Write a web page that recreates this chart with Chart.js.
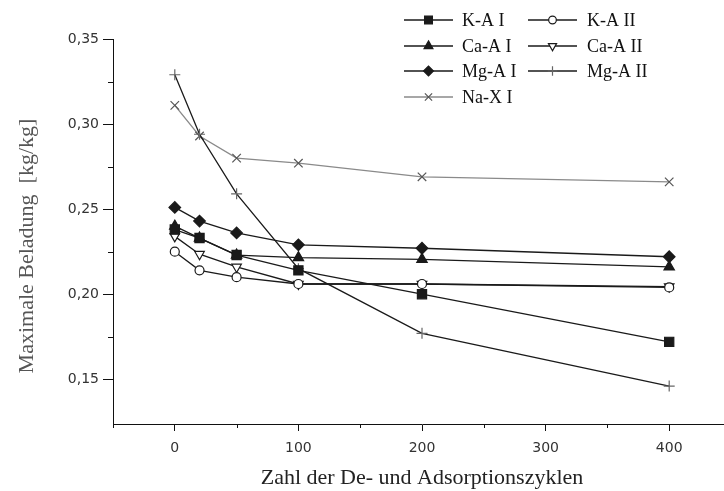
<!DOCTYPE html>
<html><head><meta charset="utf-8">
<script src="https://cdn.jsdelivr.net/npm/chart.js@4"></script>
<style>html,body{margin:0;padding:0;overflow:hidden;background:#fff}#wrap{width:740px;height:491px;position:relative}</style>
</head><body><div id="wrap"><canvas id="c"></canvas></div>
<script>
// ---- data ----
const cycles = [0, 20, 50, 100, 200, 400];
const kA1  = [0.238, 0.233, 0.223, 0.214, 0.200, 0.172];
const kA2  = [0.225, 0.214, 0.210, 0.206, 0.206, 0.204];
const caA1 = [0.240, 0.233, 0.223, 0.2215, 0.2205, 0.216];
const caA2 = [0.234, 0.2235, 0.216, 0.206, 0.206, 0.2045];
const mgA1 = [0.251, 0.243, 0.236, 0.229, 0.227, 0.222];
const mgA2 = [0.329, 0.294, 0.259, 0.215, 0.177, 0.146];
const naX1 = [0.311, 0.293, 0.280, 0.277, 0.269, 0.266];
const seriesLabels = ['K-A I', 'K-A II', 'Ca-A I', 'Ca-A II', 'Mg-A I', 'Mg-A II', 'Na-X I'];
const xTickValues = [-50, 0, 50, 100, 150, 200, 250, 300, 350, 400, 450];
const xTickLabels = ['', '0', '', '100', '', '200', '', '300', '', '400', ''];
const yTickValues = [0.15, 0.175, 0.2, 0.225, 0.25, 0.275, 0.3, 0.325, 0.35];
const yTickLabels = ['0,15', '', '0,20', '', '0,25', '', '0,30', '', '0,35'];
const xTitle = 'Zahl der De- und Adsorptionszyklen';
const yTitle = 'Maximale Beladung  [kg/kg]';

const pts = arr => arr.map((v, i) => ({x: cycles[i], y: v}));
const DARK = '#1a1a1a', GREY = '#8a8a8a';
function ds(label, data, style, opts) {
  return Object.assign({
    label, data: pts(data), borderColor: DARK, borderWidth: 1.3,
    pointStyle: style, pointRadius: 5, pointBorderColor: DARK,
    pointBackgroundColor: DARK, pointBorderWidth: 1.2, pointRotation: 0,
    tension: 0, fill: false
  }, opts || {});
}
const datasets = [
  ds(seriesLabels[0], kA1, 'rect', {pointRadius: 6.5}),
  ds(seriesLabels[1], kA2, 'circle', {pointRadius: 4.5, pointBackgroundColor: '#fff'}),
  ds(seriesLabels[2], caA1, 'triangle', {pointRadius: 6}),
  ds(seriesLabels[3], caA2, 'triangle', {pointRadius: 5.5, pointRotation: 180, pointBackgroundColor: '#fff'}),
  ds(seriesLabels[4], mgA1, 'rectRot', {pointRadius: 5.8}),
  ds(seriesLabels[5], mgA2, 'cross', {pointRadius: 5.5, pointBorderColor: '#666'}),
  ds(seriesLabels[6], naX1, 'crossRot', {pointRadius: 6, borderColor: GREY, pointBorderColor: '#555'})
];

const extrasPlugin = {
  id: 'extras',
  afterDraw(chart) {
    const ctx = chart.ctx, xs = chart.scales.x, ys = chart.scales.y, ca = chart.chartArea;
    ctx.save();
    // minor ticks
    ctx.strokeStyle = '#111'; ctx.lineWidth = 1;
    xTickValues.forEach((v, i) => {
      if (xTickLabels[i] !== '') return;
      const px = Math.round(xs.getPixelForValue(v)) + 0.5;
      ctx.beginPath(); ctx.moveTo(px, ca.bottom); ctx.lineTo(px, ca.bottom + 4); ctx.stroke();
    });
    yTickValues.forEach((v, i) => {
      if (yTickLabels[i] !== '') return;
      const py = Math.round(ys.getPixelForValue(v)) + 0.5;
      ctx.beginPath(); ctx.moveTo(ca.left - 5, py); ctx.lineTo(ca.left, py); ctx.stroke();
    });
    // y title
    ctx.save();
    ctx.translate(27, 246); ctx.rotate(-Math.PI / 2);
    ctx.fillStyle = '#555'; ctx.font = '22px "Liberation Serif"';
    ctx.textAlign = 'center'; ctx.textBaseline = 'middle';
    ctx.fillText(yTitle, 0, 0);
    ctx.restore();
    // legend
    const rowsY = [20, 46, 71, 97];
    chart.data.datasets.forEach((d, i) => {
      const col = i % 2, row = Math.floor(i / 2);
      const x0 = col ? 528 : 404, x1 = col ? 577 : 453, tx = col ? 587 : 462, y = rowsY[row];
      ctx.strokeStyle = d.borderColor; ctx.lineWidth = 1.3;
      ctx.beginPath(); ctx.moveTo(x0, y); ctx.lineTo(x1, y); ctx.stroke();
      ctx.fillStyle = d.pointBackgroundColor; ctx.strokeStyle = d.pointBorderColor;
      ctx.lineWidth = d.pointBorderWidth;
      Chart.helpers.drawPoint(ctx, {pointStyle: d.pointStyle, radius: d.pointRadius * 0.85,
        rotation: d.pointRotation, borderWidth: d.pointBorderWidth}, (x0 + x1) / 2, y);
      ctx.fillStyle = '#111'; ctx.font = '18px "Liberation Serif"';
      ctx.textAlign = 'left'; ctx.textBaseline = 'middle';
      ctx.fillText(d.label, tx, y + 1);
    });
    ctx.restore();
  }
};

new Chart(document.getElementById('c'), {
  type: 'line',
  data: {datasets},
  plugins: [extrasPlugin],
  options: {
    responsive: true, maintainAspectRatio: false, animation: false,
    layout: {padding: {top: 39, right: 6, left: 0, bottom: 0}},
    plugins: {legend: {display: false}, tooltip: {enabled: false}},
    scales: {
      x: {
        type: 'linear', min: -50, max: 450,
        afterBuildTicks: s => { s.ticks = xTickValues.map(v => ({value: v})); },
        afterFit: s => { s.height = 67; },
        ticks: {autoSkip: false, maxRotation: 0, padding: 9, color: '#333',
          font: {family: '"DejaVu Sans"', size: 14},
          callback: (v, i) => xTickLabels[i]},
        grid: {drawOnChartArea: false, tickLength: 7, lineWidth: 1,
          color: c => (c.tick && xTickLabels[c.index] !== '') ? '#111' : 'rgba(0,0,0,0)'},
        border: {display: true, color: '#111', width: 1},
        title: {display: true, text: xTitle, color: '#222',
          font: {family: '"Liberation Serif"', size: 22}, padding: {top: 0, bottom: 0}}
      },
      y: {
        type: 'linear', min: 0.1237, max: 0.35,
        afterBuildTicks: s => { s.ticks = yTickValues.map(v => ({value: v})); },
        afterFit: s => { s.width = 113; },
        ticks: {autoSkip: false, padding: 4, color: '#333',
          font: {family: '"DejaVu Sans"', size: 14},
          callback: (v, i) => yTickLabels[i]},
        grid: {drawOnChartArea: false, tickLength: 10, lineWidth: 1,
          color: c => (c.tick && yTickLabels[c.index] !== '') ? '#111' : 'rgba(0,0,0,0)'},
        border: {display: true, color: '#111', width: 1}
      }
    }
  }
});
</script>
</body></html>
